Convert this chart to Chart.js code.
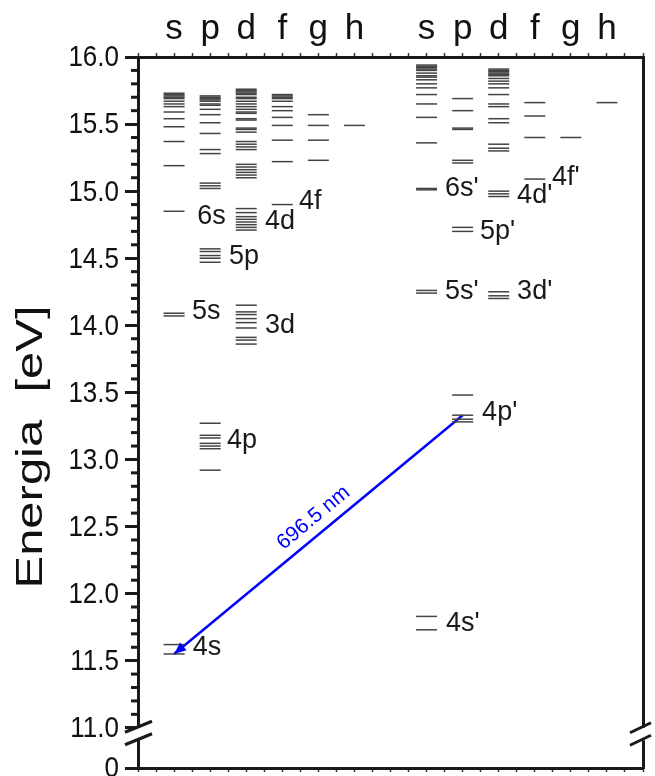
<!DOCTYPE html>
<html>
<head>
<meta charset="utf-8">
<script src="https://cdn.jsdelivr.net/npm/chart.js@4.4.0/dist/chart.umd.min.js"></script>
<style>
  html, body { margin: 0; padding: 0; background: #fff; }
  #wrap { width: 655px; height: 776px; }
</style>
</head>
<body>
<div id="wrap"><canvas id="levels" width="655" height="776"></canvas></div>
<script>
const FONT = 'Arial, "Liberation Sans", Helvetica, sans-serif';
const INK = "#1a1a1a";

const orbitals = ["s", "p", "d", "f", "g", "h"];

// energy levels in eV, unprimed series (columns 0..5)
const sLevels = [11.55, 11.62, 14.07, 14.09, 14.85, 15.19, 15.37, 15.48, 15.54, 15.59, 15.63, 15.65,
  15.67, 15.69, 15.70, 15.71, 15.72, 15.73];
const pLevels = [12.92, 13.08, 13.10, 13.12, 13.16, 13.18, 13.27, 14.47, 14.50, 14.52, 14.55, 14.57,
  15.02, 15.04, 15.06, 15.28, 15.31, 15.43, 15.51, 15.57, 15.61, 15.64, 15.65, 15.67, 15.68, 15.69, 15.70, 15.71];
const dLevels = [13.86, 13.89, 13.91, 13.98, 14.02, 14.05, 14.08, 14.10, 14.15,
  14.71, 14.73, 14.75, 14.77, 14.79, 14.81, 14.84, 14.87,
  15.10, 15.12, 15.14, 15.16, 15.18, 15.20, 15.31, 15.33, 15.35, 15.37, 15.44, 15.46, 15.47,
  15.53, 15.54, 15.58, 15.59, 15.61, 15.63, 15.65, 15.67, 15.69, 15.70, 15.72, 15.73, 15.74, 15.75, 15.76];
const fLevels = [14.90, 15.22, 15.38, 15.49, 15.55, 15.60, 15.63, 15.67, 15.69, 15.70, 15.71, 15.72];
const gLevels = [15.23, 15.38, 15.49, 15.57];
const hLevels = [15.49];

// primed series (columns 7..12)
const sPrimeLevels = [11.73, 11.83, 14.24, 14.26, 15.01, 15.02, 15.36, 15.55, 15.65, 15.72, 15.77, 15.80,
  15.83, 15.85, 15.86, 15.88, 15.90, 15.91, 15.92, 15.93, 15.94];
const pPrimeLevels = [13.28, 13.30, 13.33, 13.48, 14.70, 14.73, 15.21, 15.23, 15.46, 15.47, 15.60, 15.69];
const dPrimeLevels = [14.20, 14.22, 14.25, 14.96, 14.98, 15.00, 15.30, 15.32, 15.35, 15.51, 15.54, 15.63, 15.65,
  15.72, 15.77, 15.80, 15.82, 15.84, 15.86, 15.87, 15.88, 15.89, 15.90, 15.91];
const fPrimeLevels = [15.09, 15.40, 15.56, 15.66];
const gPrimeLevels = [15.40];
const hPrimeLevels = [15.66];

const levelLabels = [
  { text: "4s", x: 0.52, y: 11.60 }, { text: "5s", x: 0.50, y: 14.10 }, { text: "6s", x: 0.64, y: 14.81 },
  { text: "4p", x: 1.47, y: 13.14 }, { text: "5p", x: 1.52, y: 14.51 },
  { text: "3d", x: 2.52, y: 14.00 }, { text: "4d", x: 2.52, y: 14.77 }, { text: "4f", x: 3.46, y: 14.92 },
  { text: "4s'", x: 7.54, y: 11.78 }, { text: "5s'", x: 7.51, y: 14.25 }, { text: "6s'", x: 7.51, y: 15.02 },
  { text: "4p'", x: 8.54, y: 13.35 }, { text: "5p'", x: 8.48, y: 14.70 },
  { text: "3d'", x: 9.51, y: 14.25 }, { text: "4d'", x: 9.51, y: 14.97 }, { text: "4f'", x: 10.48, y: 15.10 }
];

const transitionFrom = { x: 8, y: 13.33 };
const transitionTo = { x: 0, y: 11.55 };
const transitionText = "696.5 nm";

const yTickValues = [10.7, 11.0, 11.5, 12.0, 12.5, 13.0, 13.5, 14.0, 14.5, 15.0, 15.5, 16.0];
const yTickLabels = ["0", "11.0", "11.5", "12.0", "12.5", "13.0", "13.5", "14.0", "14.5", "15.0", "15.5", "16.0"];
const yTitle = "Energia  [eV]";

const xTickValues = [];
for (let i = 0; i <= 28; i++) xTickValues.push(-1 + i * 0.5);

function columnLetter(v) {
  if (v >= 0 && v <= 5 && Number.isInteger(v)) return orbitals[v];
  if (v >= 7 && v <= 12 && Number.isInteger(v)) return orbitals[v - 7];
  return "";
}

function levelSet(levels, col) {
  return {
    data: levels.map(e => ({ x: col, y: e })),
    showLine: false,
    pointStyle: "line",
    pointRadius: 10.5,
    pointBorderWidth: 1.5,
    pointBorderColor: "#444",
    pointBackgroundColor: "#444"
  };
}

const unprimed = [sLevels, pLevels, dLevels, fLevels, gLevels, hLevels];
const primed = [sPrimeLevels, pPrimeLevels, dPrimeLevels, fPrimeLevels, gPrimeLevels, hPrimeLevels];

const datasets = [
  ...unprimed.map((lv, i) => levelSet(lv, i)),
  ...primed.map((lv, i) => levelSet(lv, i + 7)),
  {
    type: "line",
    data: [transitionFrom, transitionTo],
    borderColor: "#0000ff",
    borderWidth: 2.5,
    pointRadius: 0,
    fill: false
  }
];
const arrowIndex = datasets.length - 1;

function line(ctx, x1, y1, x2, y2) {
  ctx.beginPath();
  ctx.moveTo(x1, y1);
  ctx.lineTo(x2, y2);
  ctx.stroke();
}

const decor = {
  id: "decor",
  afterDatasetsDraw(chart) {
    const { ctx, chartArea: a, scales: { x, y } } = chart;
    ctx.save();

    // minor ticks on the energy axis
    ctx.strokeStyle = INK;
    ctx.lineWidth = 3;
    for (let k = 111; k < 160; k++) {
      if (k % 5 === 0) continue;
      const py = y.getPixelForValue(k / 10);
      line(ctx, a.left - 7, py, a.left, py);
    }

    // energy tick labels (slightly tall, like the original)
    ctx.fillStyle = "#111";
    ctx.font = "26px " + FONT;
    ctx.textAlign = "right";
    ctx.textBaseline = "middle";
    yTickValues.forEach((v, i) => {
      ctx.setTransform(1, 0, 0, 1.15, a.left - 19, y.getPixelForValue(v));
      ctx.fillText(yTickLabels[i], 0, 1);
    });
    ctx.setTransform(1, 0, 0, 1, 0, 0);

    // axis title
    ctx.translate(32, 447);
    ctx.rotate(-Math.PI / 2);
    ctx.scale(1.36, 1);
    ctx.font = "36px " + FONT;
    ctx.textAlign = "center";
    ctx.fillText(yTitle, 0, 0);
    ctx.setTransform(1, 0, 0, 1, 0, 0);

    // level labels
    ctx.fillStyle = INK;
    ctx.font = "27px " + FONT;
    ctx.textAlign = "left";
    ctx.textBaseline = "middle";
    levelLabels.forEach(l => ctx.fillText(l.text, x.getPixelForValue(l.x), y.getPixelForValue(l.y)));

    // arrow head + wavelength
    const pts = chart.getDatasetMeta(arrowIndex).data;
    const p0 = pts[0], p1 = pts[1];
    const ang = Math.atan2(p1.y - p0.y, p1.x - p0.x);
    const hl = 12, hw = 5;
    ctx.fillStyle = "#0000ff";
    ctx.beginPath();
    ctx.moveTo(p1.x, p1.y);
    ctx.lineTo(p1.x - hl * Math.cos(ang) + hw * Math.sin(ang), p1.y - hl * Math.sin(ang) - hw * Math.cos(ang));
    ctx.lineTo(p1.x - hl * Math.cos(ang) - hw * Math.sin(ang), p1.y - hl * Math.sin(ang) + hw * Math.cos(ang));
    ctx.closePath();
    ctx.fill();

    const dx = p0.x - p1.x, dy = p0.y - p1.y, len = Math.hypot(dx, dy);
    const ux = dx / len, uy = dy / len;
    const nx = uy, ny = -ux;
    const cx = (p0.x + p1.x) / 2 + 16 * nx + 7 * ux;
    const cy = (p0.y + p1.y) / 2 + 16 * ny + 7 * uy;
    ctx.translate(cx, cy);
    ctx.rotate(Math.atan2(dy, dx));
    ctx.font = "21px " + FONT;
    ctx.textAlign = "center";
    ctx.textBaseline = "middle";
    ctx.fillText(transitionText, 0, 0);
    ctx.setTransform(1, 0, 0, 1, 0, 0);

    // axis breaks
    const y11 = y.getPixelForValue(11.0);
    const c1 = y11 - 1, c2 = y11 + 11.5;
    ctx.fillStyle = "#fff";
    ctx.fillRect(a.left - 3, c1, 6, c2 - c1);
    ctx.fillRect(a.right - 3, c1 + 1, 6, c2 - c1);
    ctx.strokeStyle = INK;
    ctx.lineWidth = 3;
    [c1, c2].forEach(c => {
      line(ctx, a.left - 13, c + 5.5, a.left + 14, c - 5.5);
      line(ctx, a.right - 13, c + 6, a.right + 8, c - 4);
    });
    ctx.restore();
  }
};

const ctx = document.getElementById("levels");

new Chart(ctx, {
  type: "scatter",
  data: { datasets },
  options: {
    responsive: false,
    animation: false,
    events: [],
    layout: { padding: 0, autoPadding: false },
    plugins: { legend: { display: false }, tooltip: { enabled: false } },
    scales: {
      x: {
        type: "linear", position: "top", min: -1, max: 13,
        afterBuildTicks: s => { s.ticks = xTickValues.map(v => ({ value: v })); },
        afterFit: s => { s.height = 57; },
        ticks: { autoSkip: false, maxRotation: 0, padding: 3, color: "#111", font: { family: FONT, size: 35 }, callback: v => columnLetter(v) },
        grid: { drawOnChartArea: false, tickLength: 4, tickWidth: 1.5, tickColor: "#333" },
        border: { width: 3, color: INK }
      },
      xb: {
        axis: "x", type: "linear", position: "bottom", min: -1, max: 13,
        afterBuildTicks: s => { s.ticks = xTickValues.map(v => ({ value: v })); },
        afterFit: s => { s.height = 8; },
        ticks: { display: false },
        grid: { drawOnChartArea: false, tickLength: 4, tickWidth: 1.5, tickColor: "#333" },
        border: { width: 3, color: INK }
      },
      y: {
        type: "linear", position: "left", min: 10.7, max: 16,
        afterBuildTicks: s => { s.ticks = yTickValues.map(v => ({ value: v })); },
        afterFit: s => { s.width = 138; },
        ticks: { display: false },
        grid: { drawOnChartArea: false, tickLength: 13, tickWidth: 3, tickColor: INK },
        border: { width: 3, color: INK }
      },
      yr: {
        axis: "y", type: "linear", position: "right", min: 10.7, max: 16,
        afterFit: s => { s.width = 12; },
        ticks: { display: false },
        grid: { display: false },
        border: { width: 3, color: INK }
      }
    }
  },
  plugins: [decor]
});
</script>
</body>
</html>
